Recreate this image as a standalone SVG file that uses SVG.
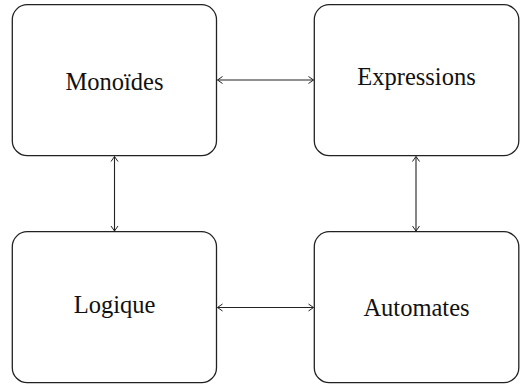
<svg xmlns="http://www.w3.org/2000/svg" width="523" height="388" viewBox="0 0 523 388">
<style>
.box{fill:#fff;stroke:#222;stroke-width:1.3}
.lbl{font-family:"Liberation Serif","DejaVu Serif",serif;font-size:24.5px;fill:#111;text-anchor:middle}
.con{stroke:#222;stroke-width:1.1;fill:none;marker-start:url(#ah);marker-end:url(#ah)}
</style>
<defs>
<marker id="ah" viewBox="0 0 10 10" refX="9" refY="5" markerWidth="10" markerHeight="10" markerUnits="userSpaceOnUse" orient="auto-start-reverse">
<polyline points="4,1.5 9,5 4,8.5" fill="none" stroke="#222" stroke-width="1"/>
</marker>
</defs>
<g id="connectors">
<line class="con" x1="217.5" y1="80" x2="313.5" y2="80"/>
<line class="con" x1="217.5" y1="307.5" x2="313.5" y2="307.5"/>
<line class="con" x1="114.5" y1="156.5" x2="114.5" y2="231"/>
<line class="con" x1="416" y1="156.5" x2="416" y2="231"/>
</g>
<g id="monoides">
<rect class="box" x="12.3" y="4.7" width="204.2" height="151" rx="15"/>
<text class="lbl" x="114.5" y="89.5">Monoïdes</text>
</g>
<g id="expressions">
<rect class="box" x="314.3" y="4.7" width="204.5" height="151" rx="15"/>
<text class="lbl" x="416.5" y="85">Expressions</text>
</g>
<g id="logique">
<rect class="box" x="12.3" y="231.7" width="204.2" height="151" rx="15"/>
<text class="lbl" x="114.5" y="312.5">Logique</text>
</g>
<g id="automates">
<rect class="box" x="314.3" y="231.7" width="204.5" height="151" rx="15"/>
<text class="lbl" x="416.5" y="316">Automates</text>
</g>
</svg>
